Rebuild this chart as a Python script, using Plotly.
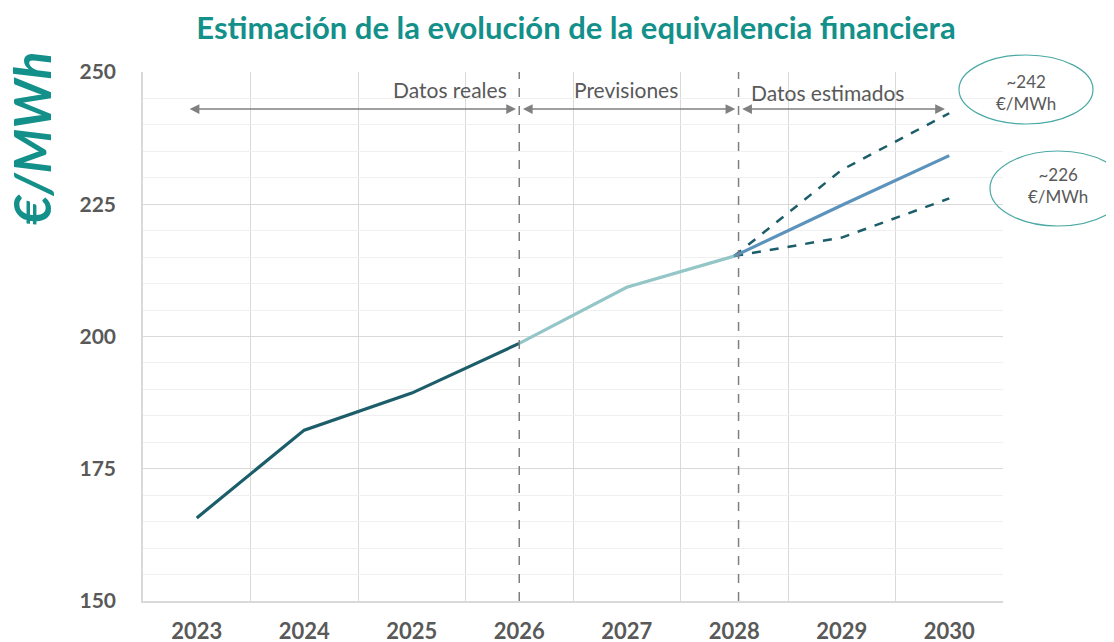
import plotly.graph_objects as go

# ---- data ----
years = [2023, 2024, 2025, 2026, 2027, 2028, 2029, 2030]
real_years = [2023, 2024, 2025, 2026]
real_vals = [165.7, 182.3, 189.3, 198.7]
prev_years = [2026, 2027, 2028]
prev_vals = [198.7, 209.3, 215.2]
est_years = [2028, 2029, 2030]
est_central = [215.2, 224.8, 234.2]
est_upper = [215.2, 231.5, 242.2]
est_lower = [215.2, 218.7, 226.1]
y_ticks = [150, 175, 200, 225, 250]
phase_labels = ["Datos reales", "Previsiones", "Datos estimados"]
phase_label_x = [2025.36, 2026.99, 2028.87]
phase_label_y = [246.6, 246.6, 246.1]
phase_arrows = [(2022.92, 2025.97), (2026.02, 2028.01), (2028.06, 2029.96)]
phase_dividers = [2026.0, 2028.04]
bubble_texts = ["~242<br>€/MWh", "~226<br>€/MWh"]

DARK = "#1b5d69"
LIGHT = "#94c6c7"
BLUE = "#5b93bd"
TEAL = "#13908a"
GRAY = "#595959"
FONT = "Lato"

# page has an 8px body margin; plot area should sit at window px x 143..1003, y 72..601
W, H = 1106, 634
PL, PR, PT, PB = 143, 1003, 72, 601


def px(x):
    return (x - PL) / (PR - PL)


def py(y):
    return (PB - y) / (PB - PT)


fig = go.Figure()
fig.add_trace(go.Scatter(x=real_years, y=real_vals, mode="lines",
                         line=dict(color=DARK, width=3.2), showlegend=False))
fig.add_trace(go.Scatter(x=prev_years, y=prev_vals, mode="lines",
                         line=dict(color=LIGHT, width=3.2), showlegend=False))
fig.add_trace(go.Scatter(x=est_years, y=est_upper, mode="lines",
                         line=dict(color=DARK, width=2.5, dash="dash"), showlegend=False))
fig.add_trace(go.Scatter(x=est_years, y=est_lower, mode="lines",
                         line=dict(color=DARK, width=2.5, dash="dash"), showlegend=False))
fig.add_trace(go.Scatter(x=est_years, y=est_central, mode="lines",
                         line=dict(color=BLUE, width=3.2), showlegend=False))

shapes = []
for xd in phase_dividers:
    shapes.append(dict(type="line", xref="x", yref="y", x0=xd, x1=xd, y0=150, y1=250,
                       line=dict(color="#7f7f7f", width=1.5, dash="dash"), layer="above"))
# bubbles
shapes.append(dict(type="circle", xref="paper", yref="paper",
                   x0=px(959), x1=px(1093), y0=py(124), y1=py(55),
                   line=dict(color="#4aa9a4", width=1.2), fillcolor="rgba(255,255,255,0)"))
shapes.append(dict(type="circle", xref="paper", yref="paper",
                   x0=px(990), x1=px(1126), y0=py(226), y1=py(151),
                   line=dict(color="#4aa9a4", width=1.2), fillcolor="rgba(255,255,255,0)"))

annotations = []
for t, xx, yy in zip(phase_labels, phase_label_x, phase_label_y):
    annotations.append(dict(x=xx, y=yy, xref="x", yref="y", text=t, showarrow=False,
                            xanchor="center", yanchor="middle",
                            font=dict(family=FONT, size=21, color=GRAY)))
for (a, b) in phase_arrows:
    annotations.append(dict(x=b, y=243, ax=a, ay=243, xref="x", yref="y", axref="x", ayref="y",
                            text="", showarrow=True, arrowside="end+start", arrowhead=2,
                            arrowsize=1.3, arrowwidth=1.5, arrowcolor="#808080",
                            standoff=0, startstandoff=0))
annotations.append(dict(x=px(1026), y=py(92), xref="paper", yref="paper",
                        xanchor="center", yanchor="middle",
                        text=bubble_texts[0], showarrow=False,
                        font=dict(family=FONT, size=17, color=GRAY)))
annotations.append(dict(x=px(1058), y=py(186), xref="paper", yref="paper",
                        xanchor="center", yanchor="middle",
                        text=bubble_texts[1], showarrow=False,
                        font=dict(family=FONT, size=17, color=GRAY)))
annotations.append(dict(x=px(31), y=py(139), xref="paper", yref="paper",
                        xanchor="center", yanchor="middle",
                        text="<b><i>€/MWh</i></b>", textangle=-90, showarrow=False,
                        font=dict(family=FONT, size=51, color=TEAL)))

fig.update_layout(
    width=W, height=H,
    margin=dict(l=PL - 8, r=W + 8 - PR, t=PT - 8, b=H + 8 - PB, pad=0),
    paper_bgcolor="white", plot_bgcolor="white",
    title=dict(text="<b>Estimación de la evolución de la equivalencia financiera</b>",
               x=(576 - 8) / W, xanchor="center", y=1 - (28 - 8) / H, yanchor="middle",
               xref="container", yref="container",
               font=dict(family=FONT, size=31, color=TEAL)),
    shapes=shapes, annotations=annotations,
    xaxis=dict(range=[2022.5, 2030.5], tickmode="array", tickvals=years,
               ticktext=[f"<b>{y}</b>" for y in years], showgrid=False,
               tickfont=dict(family=FONT, size=22, color=GRAY), ticks="",
               ticklabelstandoff=10, automargin=False,
               showline=True, linecolor="#d9d9d9", linewidth=1.5, zeroline=False,
               minor=dict(tick0=2022.5, dtick=1, showgrid=True, gridcolor="#d9d9d9", gridwidth=1.2),
               fixedrange=True),
    yaxis=dict(range=[150, 250], tickmode="array", tickvals=y_ticks,
               ticktext=[f"<b>{v}</b>" for v in y_ticks],
               showgrid=True, gridcolor="#d9d9d9", gridwidth=1.2,
               tickfont=dict(family=FONT, size=21, color=GRAY), ticks="",
               ticklabelstandoff=21, automargin=False,
               showline=True, linecolor="#d9d9d9", linewidth=1.5, zeroline=False,
               minor=dict(tick0=150, dtick=5, showgrid=True, gridcolor="#f0f0f0", gridwidth=1),
               fixedrange=True),
)

fig.write_html("out.html")
